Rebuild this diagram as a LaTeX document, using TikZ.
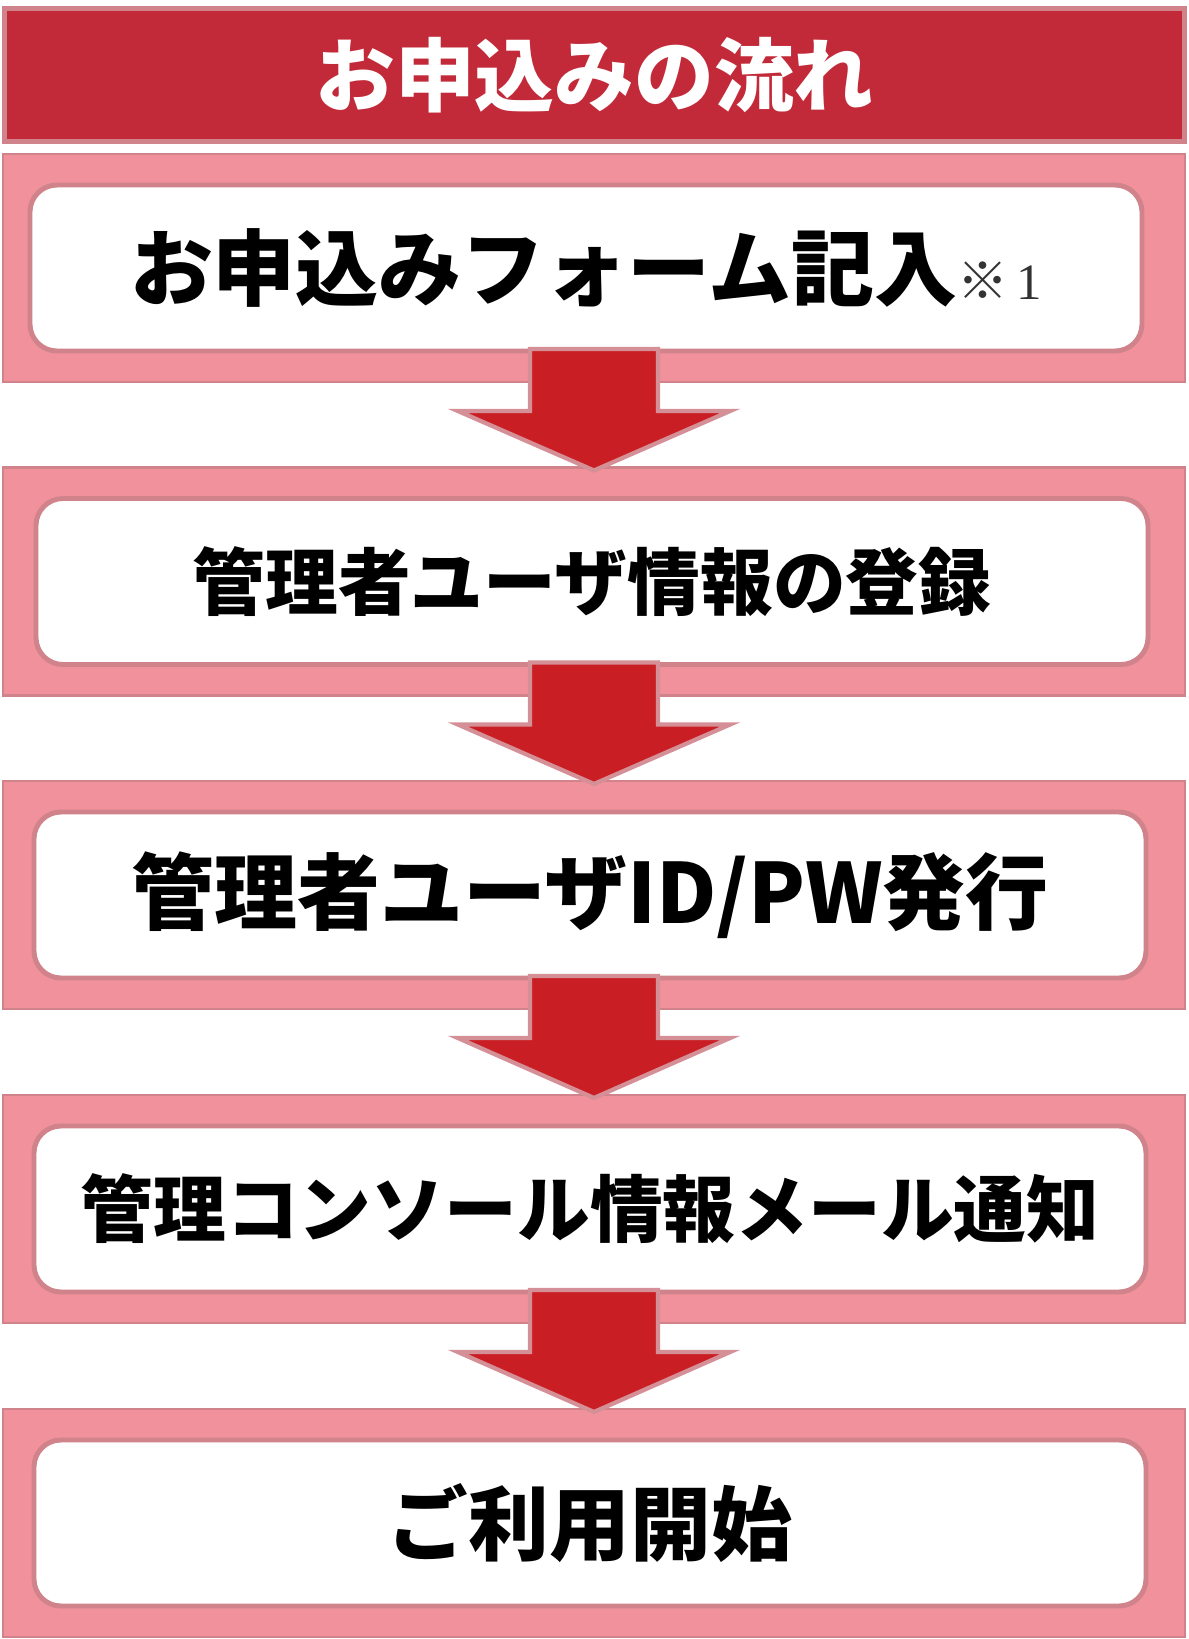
\documentclass[tikz,border=0pt]{standalone}
\usepackage{fontspec}
\usepackage{tikz}
\usepackage{xcolor}
\usetikzlibrary{positioning, calc}
\setmainfont{Noto Sans CJK JP}
\newfontfamily\numfont{Liberation Serif}
\definecolor{mTitle}{HTML}{C22A39}
\definecolor{mPink}{HTML}{F0919B}
\definecolor{mEdge}{HTML}{D0838A}
\definecolor{mArrow}{HTML}{C91F24}
\definecolor{mNote}{HTML}{333333}

% block arrow from one step band down to the next
\newcommand{\stepArrow}[2]{%
  \draw[flowarrow] ($(#1.south)+(-0.64,0.34)$) -- ($(#1.south)+(0.64,0.34)$)
    -- ($(#1.south)+(0.64,-0.28)$) -- ($(#1.south)+(1.36,-0.28)$)
    -- ($(#2.north)+(0,-0.04)$)
    -- ($(#1.south)+(-1.36,-0.28)$) -- ($(#1.south)+(-0.64,-0.28)$) -- cycle;}

\begin{document}
\begin{tikzpicture}[
  title/.style={draw=mEdge, line width=1.4pt, fill=mTitle, minimum width=11.8cm,
                minimum height=1.33cm, text=white, font=\fontsize{22.7}{26}\selectfont\bfseries},
  band/.style={draw=mEdge, line width=0.6pt, fill=mPink, minimum width=11.82cm,
               minimum height=2.28cm},
  stepbox/.style={draw=mEdge, line width=1.4pt, fill=white, rounded corners=0.27cm,
                  minimum width=11.12cm, minimum height=1.66cm, align=center,
                  font=\fontsize{23}{27}\selectfont\bfseries},
  steplong/.style={stepbox, font=\fontsize{20.7}{24}\selectfont\bfseries},
  flowarrow/.style={draw=mEdge!90, line width=1.2pt, fill=mArrow},
]
  \useasboundingbox (0,0) rectangle (11.88,-16.39);
  \node[title] (head) at (5.945,-0.75) {お申込みの流れ};

  \node[band] (b1) at (5.94,-2.68) {};
  \node[band] (b2) at (5.94,-5.815) {};
  \node[band] (b3) at (5.94,-8.95) {};
  \node[band] (b4) at (5.94,-12.09) {};
  \node[band] (b5) at (5.94,-15.23) {};

  \node[stepbox, font=\fontsize{23.6}{27}\selectfont\bfseries] (s1) at (5.86,-2.68)
    {お申込みフォーム記入{\normalfont\fontsize{14.5}{16}\selectfont\color{mNote}※\,{\numfont 1}}};
  \node[steplong] (s2) at (5.92,-5.815) {管理者ユーザ情報の登録};
  \node[stepbox, font=\fontsize{23.6}{27}\selectfont\bfseries] (s3) at (5.9,-8.95) {管理者ユーザID/PW発行};
  \node[steplong] (s4) at (5.9,-12.09) {管理コンソール情報メール通知};
  \node[stepbox] (s5) at (5.9,-15.23) {ご利用開始};

  \stepArrow{b1}{b2}
  \stepArrow{b2}{b3}
  \stepArrow{b3}{b4}
  \stepArrow{b4}{b5}
\end{tikzpicture}
\end{document}
